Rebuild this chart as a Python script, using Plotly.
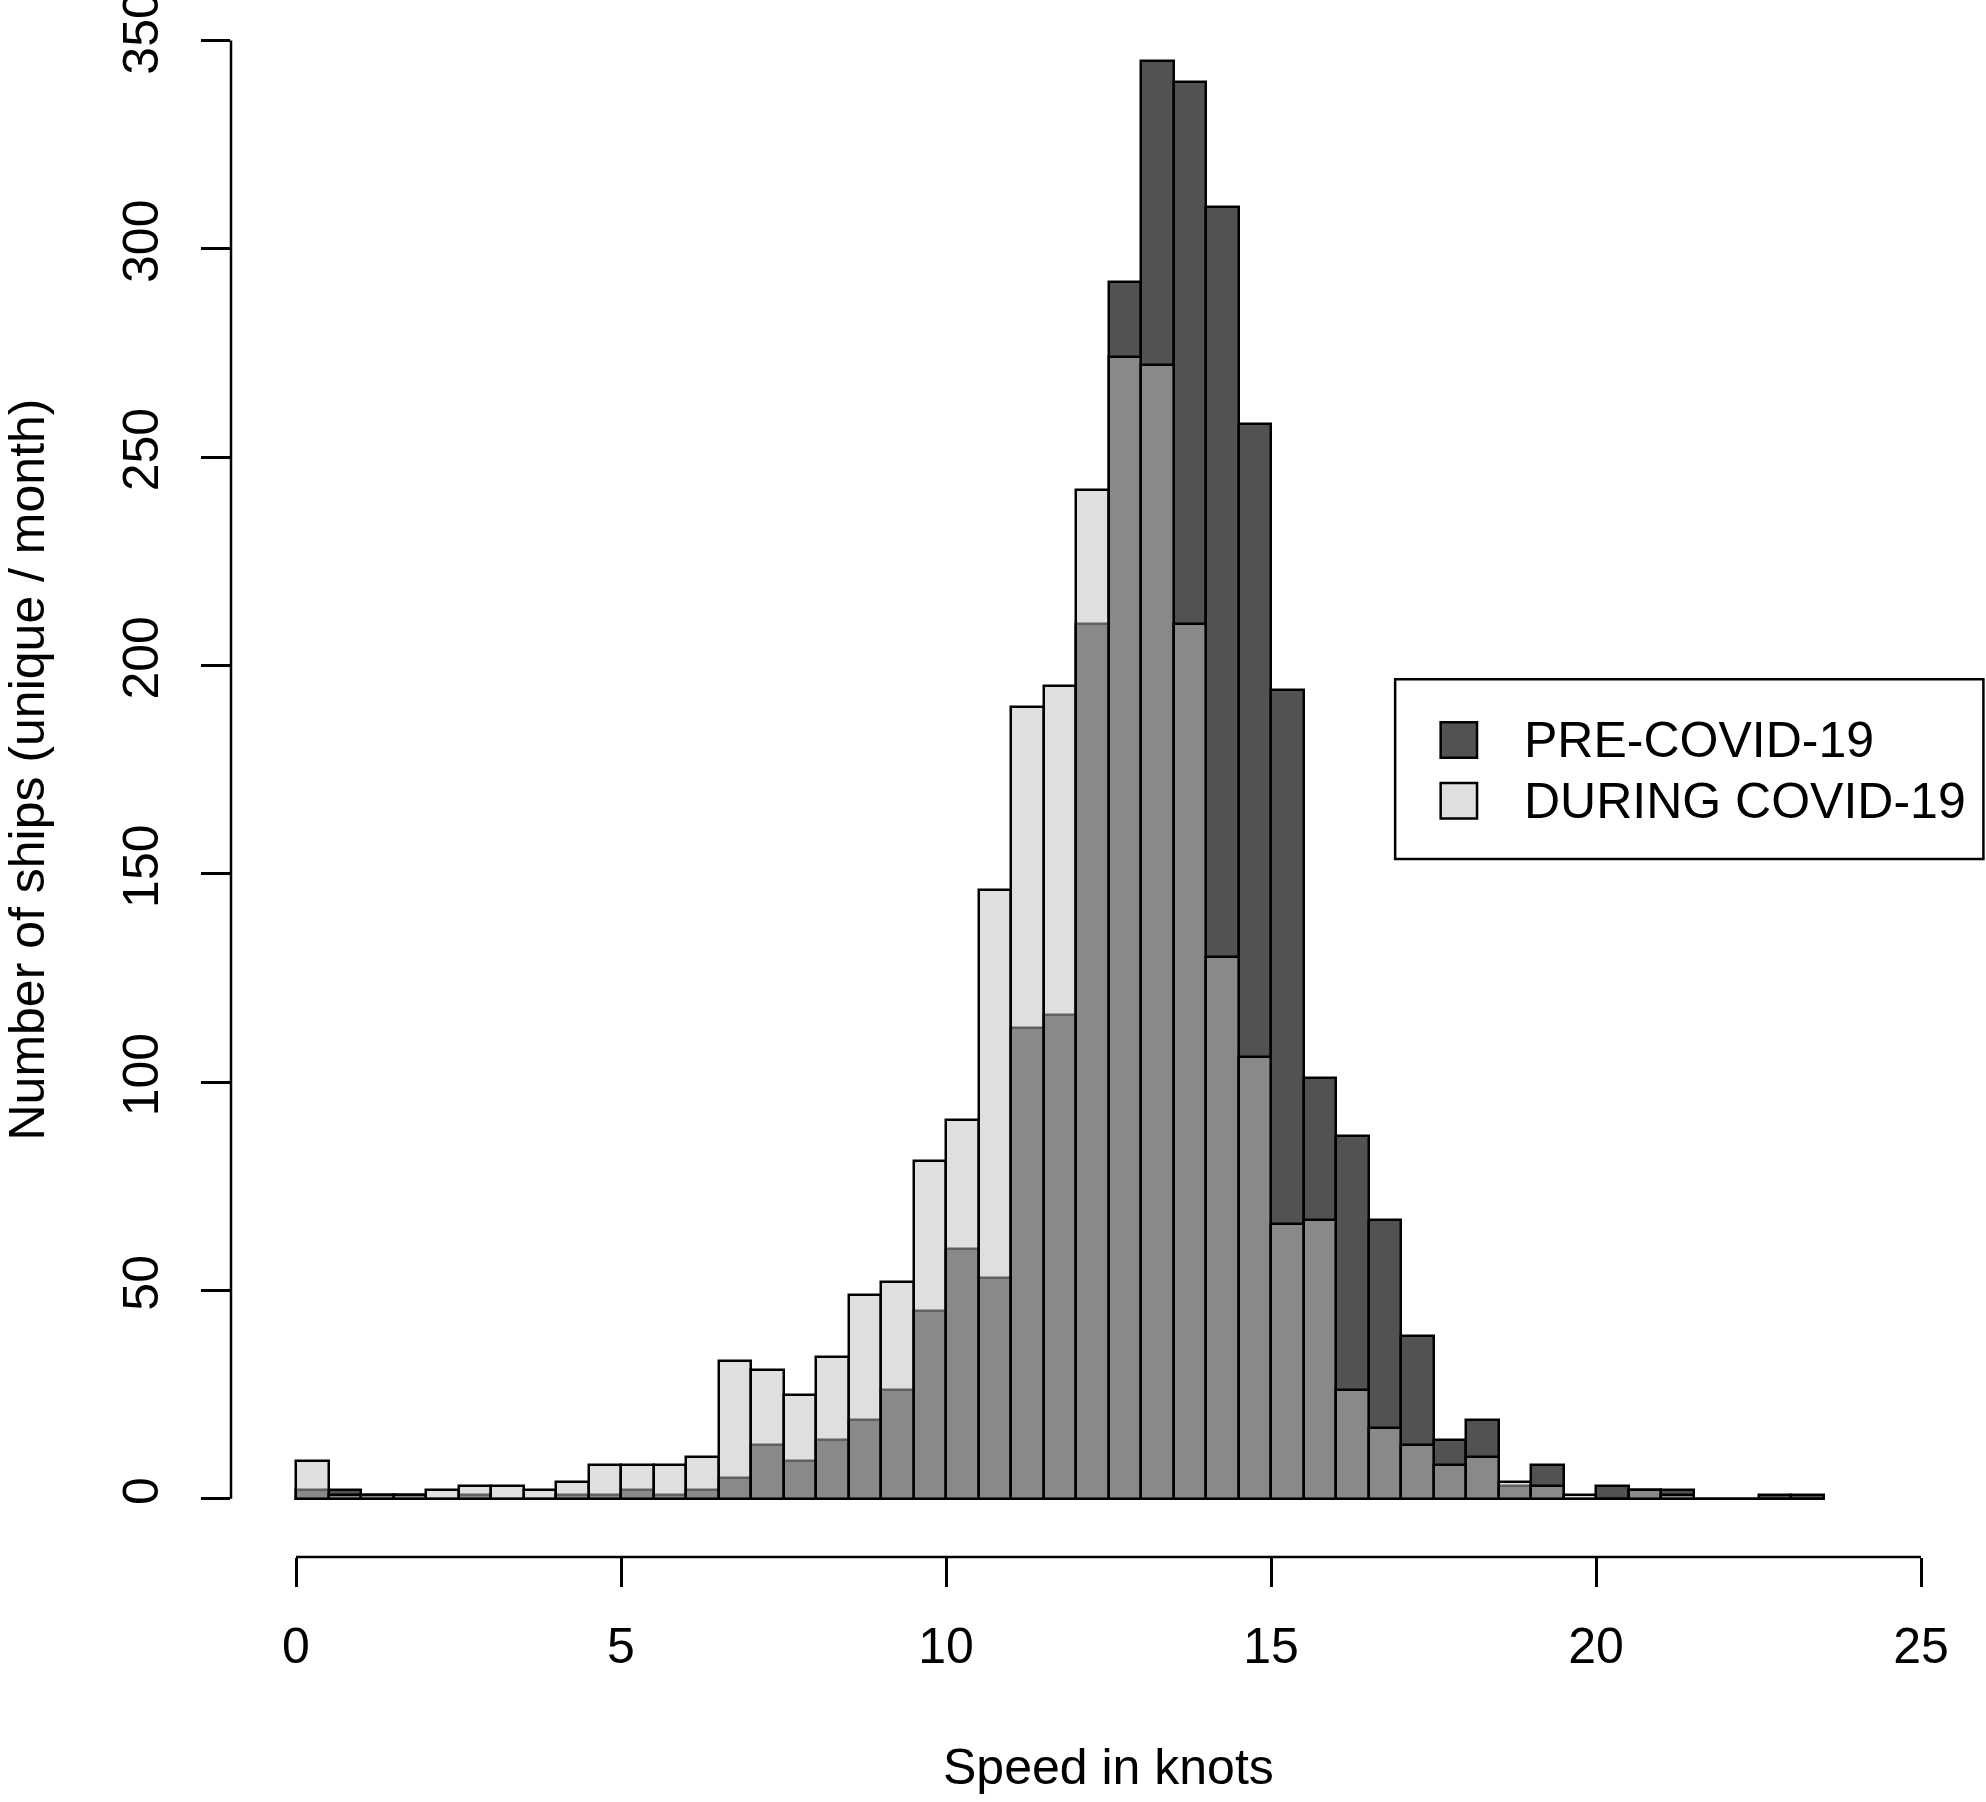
import plotly.graph_objects as go

# Histogram bins (left edge, knots), width 0.5
bin_start = [0.0, 0.5, 1.0, 1.5, 2.0, 2.5, 3.0, 3.5, 4.0, 4.5,
             5.0, 5.5, 6.0, 6.5, 7.0, 7.5, 8.0, 8.5, 9.0, 9.5,
             10.0, 10.5, 11.0, 11.5, 12.0, 12.5, 13.0, 13.5, 14.0, 14.5,
             15.0, 15.5, 16.0, 16.5, 17.0, 17.5, 18.0, 18.5, 19.0, 19.5,
             20.0, 20.5, 21.0, 21.5, 22.0, 22.5, 23.0]
bin_width = 0.5

pre_covid = [2, 2, 1, 1, 0, 1, 0, 0, 1, 1,
             2, 1, 2, 5, 13, 9, 14, 19, 26, 45,
             60, 53, 113, 116, 210, 292, 345, 340, 310, 258,
             194, 101, 87, 67, 39, 14, 19, 3, 8, 0,
             3, 2, 2, 0, 0, 1, 1]

during_covid = [9, 1, 1, 1, 2, 3, 3, 2, 4, 8,
                8, 8, 10, 33, 31, 25, 34, 49, 52, 81,
                91, 146, 190, 195, 242, 274, 272, 210, 130, 106,
                66, 67, 26, 17, 13, 8, 10, 4, 3, 1,
                0, 2, 1, 0, 0, 0, 0]

x_ticks = [0, 5, 10, 15, 20, 25]
y_ticks = [0, 50, 100, 150, 200, 250, 300, 350]
series_names = ["PRE-COVID-19", "DURING COVID-19"]

PRE_COLOR = "rgb(82,82,82)"
DURING_COLOR = "rgba(191,191,191,0.5)"
FONT = "Liberation Sans, Arial, sans-serif"
FS = 50

fig = go.Figure()
fig.add_trace(go.Bar(x=bin_start, y=pre_covid, width=bin_width, offset=0,
                     name=series_names[0],
                     marker=dict(color=PRE_COLOR, line=dict(color="black", width=2.5)),
                     showlegend=False))
fig.add_trace(go.Bar(x=bin_start, y=during_covid, width=bin_width, offset=0,
                     name=series_names[1],
                     marker=dict(color=DURING_COLOR, line=dict(color="black", width=2.5)),
                     showlegend=False))

fig.update_layout(
    width=1986, height=1802,
    margin=dict(l=231, r=0, t=0, b=245, autoexpand=False),
    barmode="overlay", bargap=0,
    plot_bgcolor="white", paper_bgcolor="white",
    font=dict(family=FONT, size=FS, color="black"),
    xaxis=dict(range=[-1, 26], tickvals=x_ticks, ticktext=[str(v) for v in x_ticks],
               showgrid=False, zeroline=False, showline=False,
               ticks="outside", ticklen=29, tickwidth=2.5, tickcolor="black",
               ticklabelstandoff=16, automargin=False,
               tickfont=dict(family=FONT, size=FS)),
    yaxis=dict(range=[-14, 359.7], tickvals=y_ticks, ticktext=[str(v) for v in y_ticks],
               showgrid=False, zeroline=False, showline=False,
               ticks="outside", ticklen=29, tickwidth=2.5, tickcolor="black",
               tickangle=-90, ticklabelstandoff=23, automargin=False,
               ticklabeloverflow="allow",
               tickfont=dict(family=FONT, size=FS)),
)

# R-style axis lines spanning first to last tick
fig.add_shape(type="line", xref="x", yref="paper", x0=x_ticks[0], x1=x_ticks[-1], y0=0, y1=0,
              line=dict(color="black", width=2.5))
fig.add_shape(type="line", xref="paper", yref="y", x0=0, x1=0, y0=y_ticks[0], y1=y_ticks[-1],
              line=dict(color="black", width=2.5))

# Axis titles
fig.add_annotation(text="Speed in knots", xref="x", yref="paper", x=12.5, y=0,
                   yshift=-210, xanchor="center", yanchor="middle", showarrow=False,
                   font=dict(family=FONT, size=FS))
fig.add_annotation(text="Number of ships (unique / month)", xref="paper", yref="y",
                   x=0, y=175, xshift=-204, xanchor="center", yanchor="middle",
                   textangle=-90, showarrow=False, font=dict(family=FONT, size=FS))

# Legend (drawn R-style)
fig.add_shape(type="rect", xref="x", yref="y", x0=16.91, x1=25.96, y0=153.5, y1=196.7,
              line=dict(color="black", width=2.5), fillcolor="white", layer="above")
legend_rows = [(PRE_COLOR, series_names[0], 182.1), (DURING_COLOR, series_names[1], 167.5)]
for color, label, yc in legend_rows:
    fig.add_shape(type="rect", xref="x", yref="y", x0=17.61, x1=18.17, y0=yc - 4.25, y1=yc + 4.25,
                  line=dict(color="black", width=2.5), fillcolor=color, layer="above")
    fig.add_annotation(text=label, xref="x", yref="y", x=18.86, y=yc, xanchor="left",
                       yanchor="middle", showarrow=False, font=dict(family=FONT, size=FS))

fig.write_html("out.html", config={"displayModeBar": False},
               post_script="document.body.style.margin='0';document.body.style.overflow='hidden';")
